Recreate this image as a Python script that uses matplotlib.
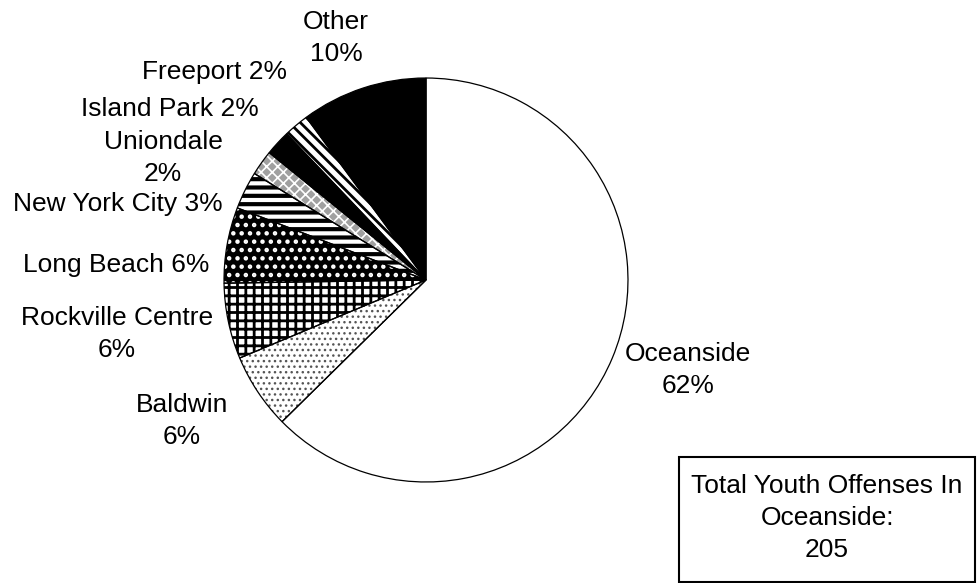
import matplotlib
matplotlib.use("Agg")
import matplotlib.pyplot as plt
from matplotlib.patches import Rectangle

plt.rcParams['font.family'] = ['Liberation Sans', 'DejaVu Sans']

# youth offenses by home town (percent of total)
towns = ["Oceanside", "Baldwin", "Rockville Centre", "Long Beach",
         "New York City", "Uniondale", "Island Park", "Freeport", "Other"]
shares = [62, 6, 6, 6, 3, 2, 2, 2, 10]
total_offenses = 205

# fill, hatch, hatch colour, hatch width for each wedge
styles = [
    ("white", "", "black", 1.0),
    ("white", "...", "#555555", 1.0),
    ("white", "++", "black", 2.0),
    ("black", "..", "white", 2.0),
    ("white", "--", "black", 3.0),
    ("#a0a0a0", "xxx", "white", 1.2),
    ("black", "", "black", 1.0),
    ("white", "\\\\\\", "black", 2.0),
    ("black", "", "black", 1.0),
]

W, H = 977, 583
fig = plt.figure(figsize=(W / 100, H / 100), dpi=100)

cx, cy, r = 426, 280, 204
ax = fig.add_axes([(cx - r) / W, (H - cy - r) / H, 2 * r / W, 2 * r / H])

wedges, _ = ax.pie(shares, startangle=90, counterclock=False, radius=1,
                   wedgeprops=dict(linewidth=0))
for w, (fc, hatch, hc, hlw) in zip(wedges, styles):
    w.set_facecolor(fc)
    w.set_edgecolor(hc)
    w.set_linewidth(0)
    if hatch:
        w.set_hatch(hatch)
        if hasattr(w, "set_hatch_linewidth"):
            w.set_hatch_linewidth(hlw)

# outlines on top
ax.pie(shares, startangle=90, counterclock=False, radius=1,
       wedgeprops=dict(fill=False, edgecolor="black", linewidth=0.9))
ax.set_xlim(-1.01, 1.01)
ax.set_ylim(-1.01, 1.01)
ax.axis("off")


def px_text(x, y, s, **kw):
    fig.text(x / W, 1 - y / H, s, ha="center", va="center",
             fontsize=19, linespacing=1.4, **kw)


labels = [
    (688, 370, "Oceanside\n62%"),
    (182, 421, "Baldwin\n6%"),
    (117, 334, "Rockville Centre\n6%"),
    (116, 265, "Long Beach 6%"),
    (118, 204, "New York City 3%"),
    (163, 158, "Uniondale\n2%"),
    (170, 109, "Island Park 2%"),
    (215, 72, "Freeport 2%"),
    (336, 38, "Other\n10%"),
]
for x, y, s in labels:
    px_text(x, y, s)

# total box
fig.patches.append(Rectangle((679 / W, 1 - 582 / H), 296 / W, 125 / H,
                             transform=fig.transFigure, fill=False,
                             edgecolor="black", linewidth=1.5))
px_text(827, 518, "Total Youth Offenses In\nOceanside:\n%d" % total_offenses)

fig.savefig("out.png", dpi=100)
